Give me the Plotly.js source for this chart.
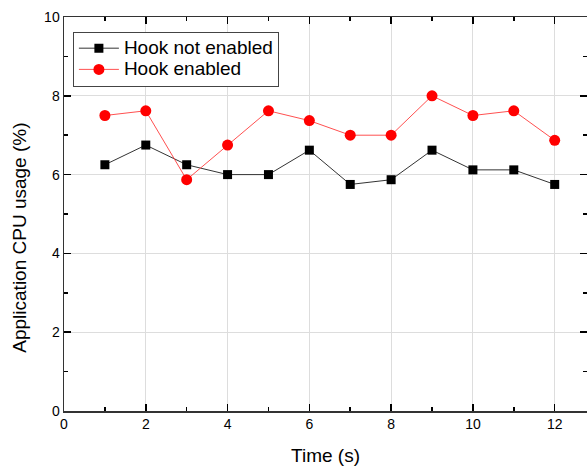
<!DOCTYPE html>
<html>
<head>
<meta charset="utf-8">
<script src="https://cdn.plot.ly/plotly-3.0.1.min.js"></script>
<style>html,body{margin:0;padding:0;background:#fff;}</style>
</head>
<body>
<div id="chart" style="width:587px;height:470px;"></div>
<script>
const timeS = [1, 2, 3, 4, 5, 6, 7, 8, 9, 10, 11, 12];
const hookNotEnabled = [6.25, 6.75, 6.25, 6.0, 6.0, 6.62, 5.75, 5.87, 6.62, 6.12, 6.12, 5.75];
const hookEnabled = [7.5, 7.62, 5.87, 6.75, 7.62, 7.37, 7.0, 7.0, 8.0, 7.5, 7.62, 6.87];
const seriesNames = ['Hook not enabled', 'Hook enabled'];
const xTicks = [0, 2, 4, 6, 8, 10, 12];
const yTicks = [0, 2, 4, 6, 8, 10];
const xTitle = 'Time (s)';
const yTitle = 'Application CPU usage (%)';

const font = 'Liberation Sans, Arial, sans-serif';
const big = s => '<span style="font-size:19px">' + s + '</span>';

const traces = [
  {
    x: timeS, y: hookNotEnabled, name: big(seriesNames[0]), type: 'scatter', mode: 'lines+markers',
    line: {color: '#333333', width: 1},
    marker: {symbol: 'square', size: 9, color: '#000000'}
  },
  {
    x: timeS, y: hookEnabled, name: big(seriesNames[1]), type: 'scatter', mode: 'lines+markers',
    line: {color: '#ff5050', width: 1},
    marker: {symbol: 'circle', size: 11, color: '#ff0000'}
  }
];

const layout = {
  width: 587, height: 470,
  margin: {l: 64, r: 0, t: 17, b: 59},
  paper_bgcolor: '#fff', plot_bgcolor: '#fff',
  font: {family: font, color: '#000'},
  showlegend: true,
  legend: {
    x: 0.017, y: 0.963, xanchor: 'left', yanchor: 'top',
    bordercolor: '#444', borderwidth: 1, bgcolor: '#fff',
    font: {size: 14, family: font, color: '#000'},
    tracegroupgap: 0, itemwidth: 40
  },
  annotations: [{
    text: yTitle, textangle: -90, showarrow: false,
    xref: 'paper', yref: 'paper', x: -0.084, y: 0.44,
    xanchor: 'center', yanchor: 'middle',
    font: {size: 19, family: font, color: '#000'}
  }],
  xaxis: {
    range: [0, 12.79], tickvals: xTicks, ticktext: xTicks.map(String),
    ticks: 'inside', ticklen: 7, tickwidth: 1.5, tickcolor: '#000',
    minor: {tickvals: [1,3,5,7,9,11], ticks: 'inside', ticklen: 4, tickwidth: 1.5, tickcolor: '#000', showgrid: false},
    showline: true, linecolor: '#333', linewidth: 1.5, mirror: 'ticks',
    showgrid: true, gridcolor: '#dddddd', gridwidth: 1, zeroline: false,
    tickfont: {size: 14, family: font, color: '#000'},
    title: {text: xTitle, font: {size: 19, family: font, color: '#000'}, standoff: 17}
  },
  yaxis: {
    range: [0, 10], tickvals: yTicks, ticktext: yTicks.map(String),
    ticks: 'inside', ticklen: 7, tickwidth: 1.5, tickcolor: '#000',
    minor: {tickvals: [1,3,5,7,9], ticks: 'inside', ticklen: 4, tickwidth: 1.5, tickcolor: '#000', showgrid: false},
    showline: true, linecolor: '#333', linewidth: 1.5, mirror: 'ticks',
    showgrid: true, gridcolor: '#dddddd', gridwidth: 1, zeroline: false,
    tickfont: {size: 14, family: font, color: '#000'}
  }
};

Plotly.newPlot('chart', traces, layout, {displayModeBar: false, staticPlot: true});
</script>
</body>
</html>
